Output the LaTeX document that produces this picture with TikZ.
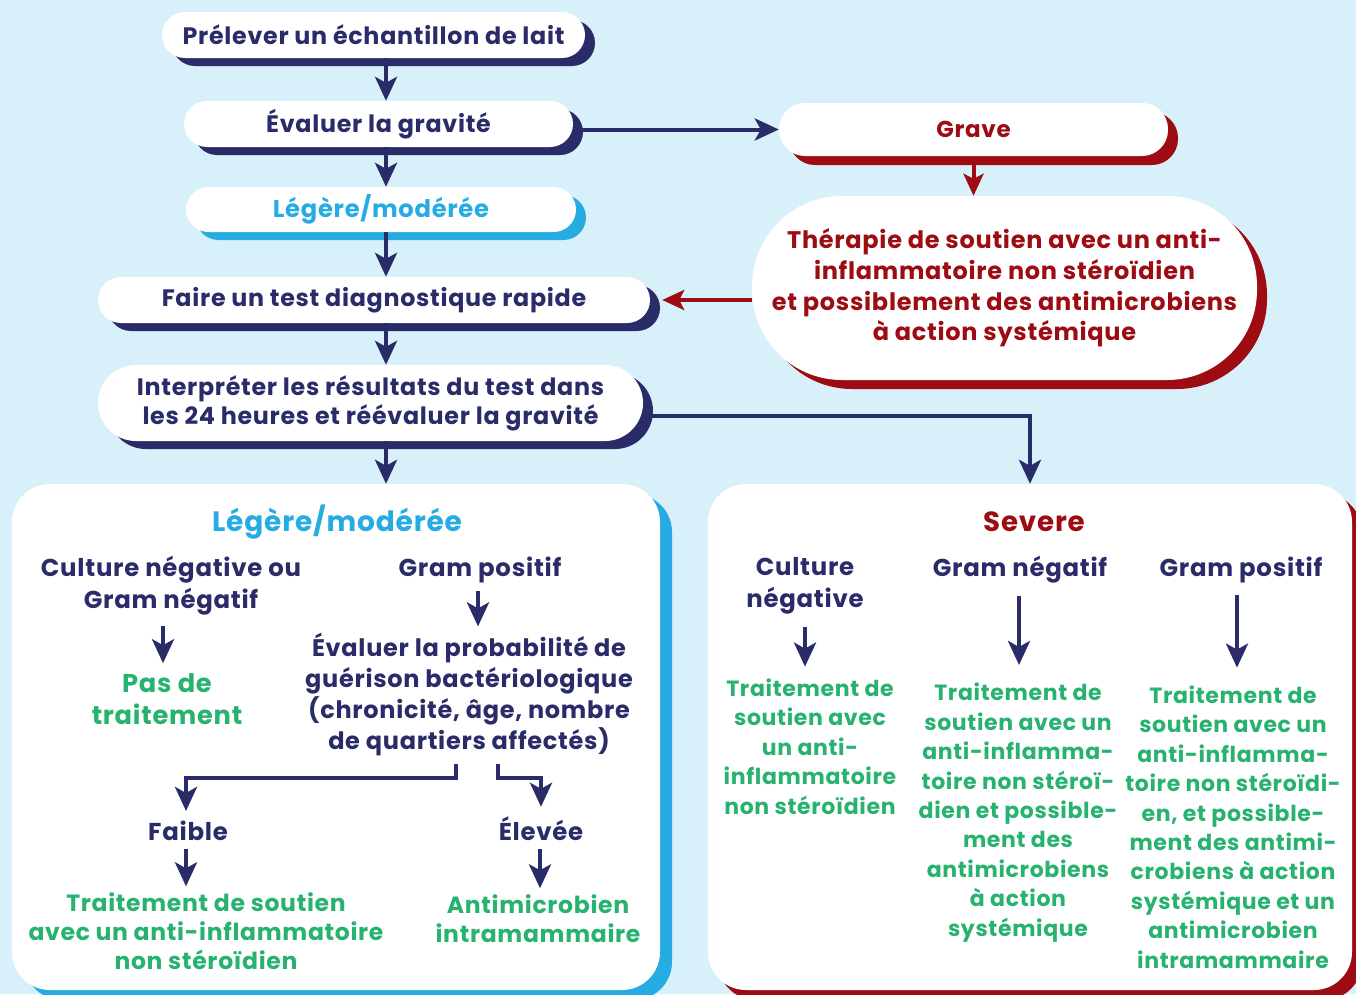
\documentclass[tikz,border=0pt]{standalone}
\usepackage{fontspec}
\setmainfont{Poppins}[LetterSpace=3]
\usetikzlibrary{shadows,arrows.meta,calc}
\definecolor{bg}{RGB}{215,240,250}
\definecolor{navy}{RGB}{42,44,106}
\definecolor{cred}{RGB}{156,12,18}
\definecolor{ccyan}{RGB}{38,171,226}
\definecolor{cgreen}{RGB}{40,178,112}
\tikzset{
  pill/.style={fill=white, rounded corners=#1, inner sep=0pt, align=center,
    font=\bfseries\fontsize{23.8}{30}\selectfont, text=navy},
  navysh/.style={drop shadow={shadow xshift=10pt, shadow yshift=-8pt, fill=navy, opacity=1}},
  cyansh/.style={drop shadow={shadow xshift=10pt, shadow yshift=-8pt, fill=ccyan, opacity=1}},
  redsh/.style={drop shadow={shadow xshift=10pt, shadow yshift=-9pt, fill=cred, opacity=1}},
  bigbox/.style={fill=white, rounded corners=38pt, inner sep=0pt, minimum width=648pt, minimum height=506pt},
  bcyansh/.style={drop shadow={shadow xshift=12pt, shadow yshift=-10pt, fill=ccyan, opacity=1}},
  bredsh/.style={drop shadow={shadow xshift=10pt, shadow yshift=-10pt, fill=cred, opacity=1}},
  head/.style={inner sep=0pt, font=\bfseries\fontsize{28}{32}\selectfont},
  btxt/.style={inner sep=0pt, align=center, text=navy, font=\bfseries\fontsize{24.4}{32}\selectfont},
  gtxt/.style={inner sep=0pt, align=center, text=cgreen, font=\bfseries\fontsize{22}{29.4}\selectfont},
  arr/.style={draw=navy, line width=4pt, -{Stealth[length=24pt,width=22pt,inset=6pt]}},
  arrred/.style={draw=cred, line width=4pt, -{Stealth[length=22pt,width=20pt,inset=5pt]}},
}
\begin{document}
\begin{tikzpicture}[x=1pt,y=-1pt]
\fill[bg] (0,0) rectangle (1356,994);
\useasboundingbox (0,0) rectangle (1356,994);
\clip (0,0) rectangle (1356,994);
\coordinate (mainx) at (386,0);
% top flow
\node[pill=23pt, minimum width=423pt, minimum height=46pt, navysh] (n1) at (373.5,35) {Prélever un échantillon de lait};
\node[pill=23pt, minimum width=389pt, minimum height=46pt, navysh] (n2) at (378.5,124) {Évaluer la gravité};
\node[pill=22.5pt, minimum width=390pt, minimum height=45pt, cyansh, text=ccyan, font=\bfseries\fontsize{24.2}{30}\selectfont] (n3) at (381,209.5) {Légère/modérée};
\node[pill=23pt, minimum width=552pt, minimum height=46pt, navysh] (n4) at (374,300) {Faire un test diagnostique rapide};
\node[pill=38pt, minimum width=545pt, minimum height=76pt, navysh, font=\bfseries\fontsize{23.8}{29}\selectfont] (n5) at (370.5,403) {Interpréter les résultats du test dans\\les 24 heures et réévaluer la gravité};
\node[pill=26pt, minimum width=389pt, minimum height=53pt, redsh, text=cred, font=\bfseries\fontsize{23}{30}\selectfont] (grave) at (973.5,129.5) {Grave};
\node[pill=90pt, minimum width=505pt, minimum height=184pt, redsh, text=cred, font=\bfseries\fontsize{24}{30.7}\selectfont] (ther) at (1004.5,288) {Thérapie de soutien avec un anti-\\inflammatoire non stéroïdien\\et possiblement des antimicrobiens\\à action systémique};
% big boxes
\node[bigbox, bcyansh] (lbox) at (336,737) {};
\node[bigbox, minimum width=644pt, bredsh] (rbox) at (1030,737) {};
% top arrows
\draw[arr] (n1.south -| mainx) -- (n2.north -| mainx);
\draw[arr] (n2.south -| mainx) -- (n3.north -| mainx);
\draw[arr] (n3.south -| mainx) -- (n4.north -| mainx);
\draw[arr] (n4.south -| mainx) -- (n5.north -| mainx);
\draw[arr] (n5.south -| mainx) -- (lbox.north -| mainx);
\draw[arr] (n2.east |- grave.west) -- (grave.west);
\draw[arrred] ([yshift=-9pt]grave.south) -- (grave.south |- ther.north);
\draw[arrred] (ther.west |- n4.east) -- ([xshift=12pt]n4.east);
\draw[arr] ([yshift=-13pt]n5.east) -| (rbox.north);
% left box
\node[head, text=ccyan] (lhead) at (337,522) {Légère/modérée};
\node[btxt] (lcg) at (171,586) {Culture négative ou\\Gram négatif};
\node[btxt] (lgp) at (480,570) {Gram positif};
\node[gtxt, font=\bfseries\fontsize{25.7}{32}\selectfont] (lpdt) at (167,699) {Pas de\\traitement};
\node[btxt, font=\bfseries\fontsize{24}{31}\selectfont] (leval) at (469,694) {Évaluer la probabilité de\\guérison bactériologique\\(chronicité, âge, nombre\\de quartiers affectés)};
\node[btxt] (lfaible) at (188,831) {Faible};
\node[btxt] (lelev) at (541,829) {Élevée};
\node[gtxt, font=\bfseries\fontsize{23.5}{29}\selectfont] (ltrait) at (206,931) {Traitement de soutien\\avec un anti-inflammatoire\\non stéroïdien};
\node[gtxt, font=\bfseries\fontsize{23.5}{29}\selectfont] (lanti) at (538,918.5) {Antimicrobien\\intramammaire};
\draw[arr] ($(lcg.south)+(-8,10)$) -- ($(lpdt.north)+(-4,-10)$);
\draw[arr] ($(lgp.south)+(-2,8)$) -- ($(leval.north)+(9,-6)$);
\draw[arr] ($(leval.south)+(-13,8)$) -- ++(0,14) -| ($(lfaible.north)+(-2,-10)$);
\draw[arr] ($(leval.south)+(29,8)$) -- ++(0,14) -| ($(lelev.north)+(0,-10)$);
\draw[arr] ($(lfaible.south)+(-2,8)$) -- ($(ltrait.north)+(-20,-6)$);
\draw[arr] ($(lelev.south)+(-1,8)$) -- ($(lanti.north)+(2,-6)$);
% right box
\node[head, text=cred, font=\bfseries\fontsize{27.7}{32}\selectfont] (rhead) at (1034,522) {Severe};
\node[btxt] (rcn) at (805,586) {Culture\\négative};
\node[btxt] (rgn) at (1020,570) {Gram négatif};
\node[btxt] (rgp) at (1241,570) {Gram positif};
\node[gtxt] (rt1) at (810,746.5) {Traitement de\\soutien avec\\un anti-\\inflammatoire\\non stéroïdien};
\node[gtxt] (rt2) at (1018,812.5) {Traitement de\\soutien avec un\\anti-inflamma-\\toire non stéroï-\\dien et possible-\\ment des\\antimicrobiens\\à action\\systémique};
\node[gtxt] (rt3) at (1233,827) {Traitement de\\soutien avec un\\anti-inflamma-\\toire non stéroïdi-\\en, et possible-\\ment des antimi-\\crobiens à action\\systémique et un\\antimicrobien\\intramammaire};
\draw[arr] ($(rcn.south)+(0,12)$) -- ($(rt1.north)+(-5,-12)$);
\draw[arr] ($(rgn.south)+(-1,12)$) -- ($(rt2.north)+(1,-18)$);
\draw[arr] ($(rgp.south)+(-4,12)$) -- ($(rt3.north)+(4,-18)$);
\end{tikzpicture}
\end{document}
